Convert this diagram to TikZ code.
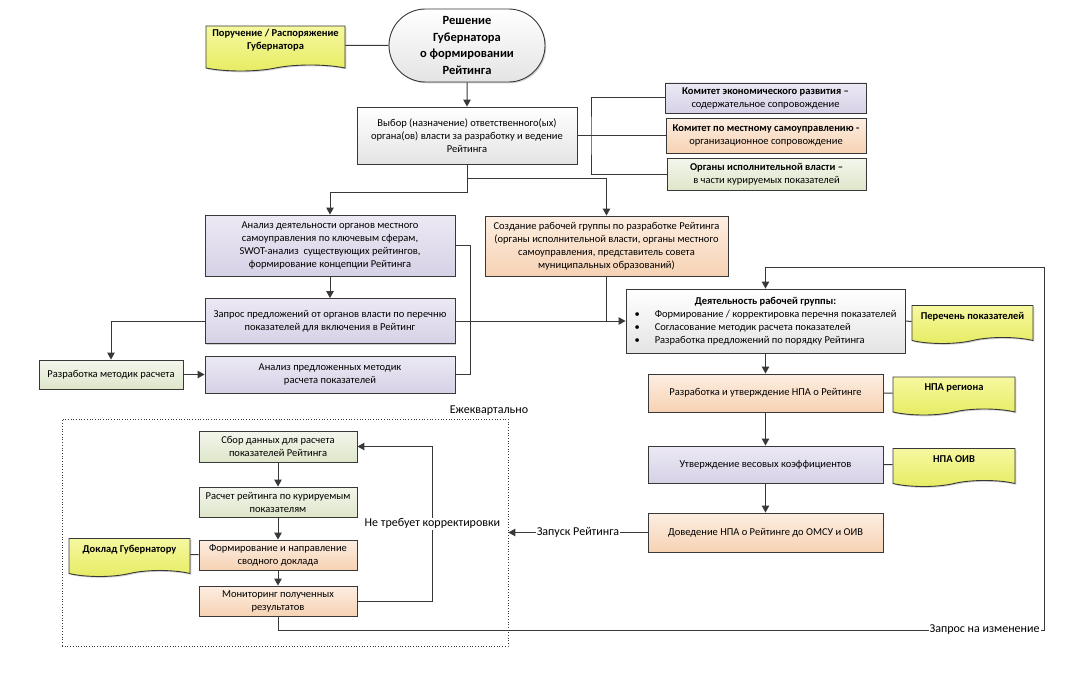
\documentclass[tikz,border=0pt]{standalone}
\usepackage{fontspec}
\setmainfont{Carlito}
\usetikzlibrary{positioning,arrows.meta,shapes.misc,shapes.symbols,shadows}

\definecolor{linegray}{HTML}{383838}
\definecolor{greybot}{HTML}{E4E4E4}
\definecolor{lilactop}{HTML}{ECE9F4}
\definecolor{lilacbot}{HTML}{D6D1E6}
\definecolor{peachtop}{HTML}{FDEEE2}
\definecolor{peachbot}{HTML}{F6D2B3}
\definecolor{olivetop}{HTML}{F3F6EC}
\definecolor{olivebot}{HTML}{DEE6CA}
\definecolor{doctop}{HTML}{F6F8A0}
\definecolor{docbot}{HTML}{E6EC62}

\newcommand\docraise[1]{\raisebox{5pt}[\height][\depth]{\begin{tabular}{@{}c@{}}#1\end{tabular}}}

\tikzset{%
  % Specifications for style of nodes:
         base/.style = {rectangle, draw=linegray, line width=0.9pt, align=center, inner sep=2pt,
                        font=\fontsize{10.5}{13}\selectfont,
                        drop shadow={shadow xshift=1.3pt, shadow yshift=-1.3pt, fill=black, opacity=0.18}},
           wh/.style 2 args = {minimum width=#1pt, minimum height=#2pt},
         grey/.style = {base, top color=white, bottom color=greybot},
        lilac/.style = {base, top color=lilactop, bottom color=lilacbot},
        peach/.style = {base, top color=peachtop, bottom color=peachbot},
        olive/.style = {base, top color=olivetop, bottom color=olivebot},
         term/.style = {base, rounded rectangle, top color=white, bottom color=greybot,
                        font=\fontsize{12.5}{16.5}\selectfont\bfseries},
        docum/.style = {base, tape, tape bend top=none, tape bend bottom=in and out, tape bend height=6pt,
                        top color=doctop, bottom color=docbot, font=\fontsize{10.5}{13}\selectfont\bfseries},
        frame/.style = {draw=linegray, dotted, line width=0.7pt},
         note/.style = {fill=white, inner sep=1pt, font=\fontsize{12}{14}\selectfont},
         link/.style = {draw=linegray, line width=1pt},
}

\begin{document}
\begin{tikzpicture}[x=1pt, y=-1pt, >={Triangle[width=7.5pt,length=7pt]}]
    \useasboundingbox (0,0) rectangle (1085,693);

    % Draw nodes
    \node (order)    [docum, wh={139}{45}] at (275.5,45.5) {\docraise{Поручение / Распоряжение\\Губернатора}};
    \node (decision) [term, wh={160}{73}]  at (467,45.5)   {Решение\\Губернатора\\о формировании\\Рейтинга};
    \node (choose)   [grey, wh={220}{57}]  at (467,135.5)  {Выбор (назначение) ответственного(ых)\\органа(ов) власти за разработку и ведение\\Рейтинга};
    \node (econ)     [lilac, wh={201}{30}] at (765.5,98)   {\textbf{Комитет экономического развития –}\\содержательное сопровождение};
    \node (selfgov)  [peach, wh={200}{35}] at (766,135.5)  {\textbf{Комитет по местному самоуправлению -}\\организационное сопровождение};
    \node (exec)     [olive, wh={199}{32}] at (766.5,174)  {\textbf{Органы исполнительной власти –}\\в части курируемых показателей};
    \node (analysis) [lilac, wh={250}{61}] at (330,245.5)  {Анализ деятельности органов местного\\самоуправления по ключевым сферам,\\SWOT-анализ\ \ существующих рейтингов,\\формирование концепции Рейтинга};
    \node (group)    [peach, wh={243}{60}] at (606.5,246)  {Создание рабочей группы по разработке Рейтинга\\(органы исполнительной власти, органы местного\\самоуправления, представитель совета\\муниципальных образований)};
    \node (request)  [lilac, wh={250}{45}] at (330,321)    {Запрос предложений от органов власти по перечню\\показателей для включения в Рейтинг};
    \node (review)   [lilac, wh={250}{37}] at (330,374.5)  {Анализ предложенных методик\\расчета показателей};
    \node (methods)  [olive, wh={144}{29}] at (111,374.5)  {Разработка методик расчета};
    \node (work)     [grey, wh={279}{64}]  at (765.5,321)  {\begin{tabular}{@{}l@{\hspace{15pt}}l@{}}
                         \multicolumn{2}{c}{\textbf{Деятельность рабочей группы:}}\\
                         \textbullet & Формирование / корректировка перечня показателей\\
                         \textbullet & Согласование методик расчета показателей\\
                         \textbullet & Разработка предложений по порядку Рейтинга
                       \end{tabular}};
    \node (list)     [docum, wh={121}{38}] at (972.5,321.5) {\docraise{Перечень показателей}};
    \node (npa)      [peach, wh={235}{38}] at (765.5,393)  {Разработка и утверждение НПА о Рейтинге};
    \node (npareg)   [docum, wh={122}{38}] at (954,393)    {\docraise{НПА региона}};
    \node (weights)  [lilac, wh={235}{37}] at (765.5,464.5) {Утверждение весовых коэффициентов};
    \node (npaoiv)   [docum, wh={122}{38}] at (954,464.5)  {\docraise{НПА ОИВ}};
    \node (notify)   [peach, wh={235}{39}] at (765.5,532.5) {Доведение НПА о Рейтинге до ОМСУ и ОИВ};

    \node (quarter)  [frame, wh={446}{227}] at (285,532.5) {};
    \node (qlabel)   [note, fill=none]     at (489,411)    {Ежеквартально};
    \node (collect)  [olive, wh={158}{31}] at (278,446.5)  {Сбор данных для расчета\\показателей Рейтинга};
    \node (calc)     [olive, wh={158}{30}] at (278,502)    {Расчет рейтинга по курируемым\\показателям};
    \node (report)   [peach, wh={158}{30}] at (278,555)    {Формирование и направление\\сводного доклада};
    \node (monitor)  [peach, wh={158}{30}] at (278,601)    {Мониторинг полученных\\результатов};
    \node (govrep)   [docum, wh={121}{38}] at (129.5,554.5) {\docraise{Доклад Губернатору}};

    \coordinate (fork) at (591,135.5);
    \coordinate (chg)  at (1044,630);
    \coordinate (back) at (1044,267);

    % Draw arrows
    \draw[link]       (order) -- (decision);
    \draw[link,->]    (decision) -- (choose);
    \draw[link]       (choose) -- (selfgov);
    \draw[link]       (econ.west) -| (fork) |- (exec.west);
    \draw[link,->]    (choose.south) -- ++(0,14) -| (group.north);
    \draw[link,->]    (choose.south) -- ++(0,28) -| (analysis.north);
    \draw[link,->]    (analysis) -- (request);
    \draw[link,->]    (request.west) -| (methods.north);
    \draw[link,->]    (methods) -- (review);
    \draw[link]       (analysis.east) -- ++(15,0) |- (review.east);
    \draw[link,->]    (request.east) -- (work.west);
    \draw[link]       (group.south) -- (group.south |- work.west);
    \draw[link]       (work.east) -- (list.west);
    \draw[link,->]    (work) -- (npa);
    \draw[link]       (npa) -- (npareg);
    \draw[link,->]    (npa) -- (weights);
    \draw[link]       (weights) -- (npaoiv);
    \draw[link,->]    (weights) -- (notify);
    \draw[link,->]    (notify.west) -- node[note, midway] {Запуск Рейтинга} (quarter.east);

    \draw[link,->]    (collect) -- (calc);
    \draw[link,->]    (calc) -- (report);
    \draw[link,->]    (report) -- (monitor);
    \draw[link]       (govrep) -- (report);
    \draw[link,->]    (monitor.east) -- ++(75,0) |- node[note, pos=0.25] {Не требует корректировки} (collect.east);
    \draw[link,->]    (monitor.south) |- node[note, pos=1, anchor=east, xshift=-3pt] {Запрос на изменение} (chg) -- (back) -| (work.north);
\end{tikzpicture}
\end{document}
